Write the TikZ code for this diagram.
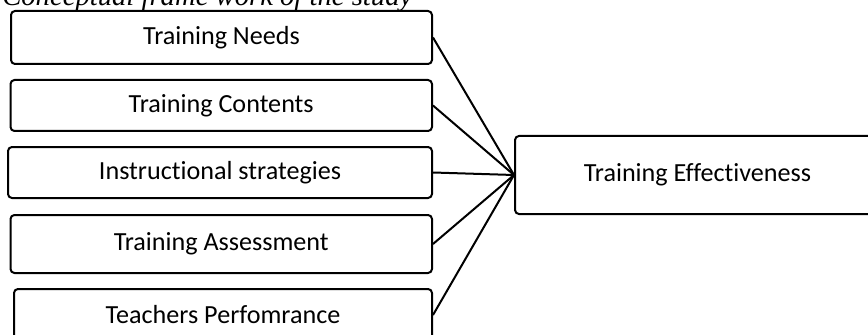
\documentclass[tikz,border=0pt]{standalone}
\usepackage{fontspec}
\setmainfont{Carlito}[Ligatures={NoCommon}]
\newfontfamily\capfont{Liberation Serif}
\begin{document}
\begin{tikzpicture}[x=0.75pt,y=-0.75pt,
  box/.style={draw, line width=1.5pt, rounded corners=3pt, inner sep=0pt,
    font=\fontsize{19.6}{24}\selectfont, align=center},
  link/.style={line width=1.5pt}]
\useasboundingbox (0,0) rectangle (868,335);
\clip (0,0) rectangle (868,335);
\node[anchor=base west, inner sep=0pt, font=\capfont\itshape\fontsize{21.5}{26}\selectfont] (cap) at (2,6) {Conceptual frame work of the study};
\node[box, minimum width=315.75pt, minimum height=39.75pt] (b1) at (221.5,37.5) {Training Needs};
\node[box, minimum width=316.125pt, minimum height=38.25pt] (b2) at (221.25,105.5) {Training Contents};
\node[box, minimum width=318pt, minimum height=38.25pt] (b3) at (220,172.5) {Instructional strategies};
\node[box, minimum width=316.125pt, minimum height=43.5pt] (b4) at (221.25,244) {Training Assessment};
\node[box, minimum width=313.5pt, minimum height=39pt] (b5) at (223,315) {Teachers Perfomrance};
\node[box, minimum width=273.75pt, minimum height=58.5pt] (te) at (697.5,175) {Training Effectiveness};
\foreach \b in {b1,b2,b3,b4,b5}{
  \draw[link] (\b.east) -- (te.west);
}
\end{tikzpicture}
\end{document}
